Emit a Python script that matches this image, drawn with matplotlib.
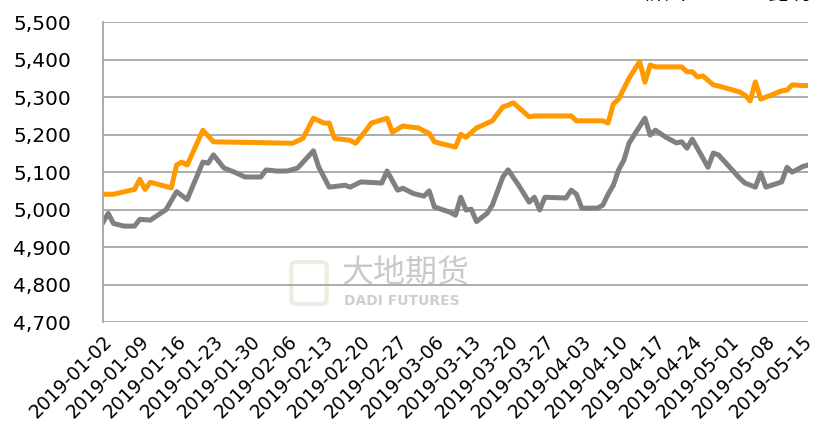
import numpy as np
import pandas as pd
import matplotlib
matplotlib.use("Agg")
import matplotlib.pyplot as plt
import matplotlib.dates as mdates
from matplotlib.ticker import FuncFormatter
from matplotlib.patches import FancyBboxPatch

# spot price, Liuzhou (orange)
liuzhou_dates = ["2019-01-02", "2019-01-04", "2019-01-08", "2019-01-09", "2019-01-10", "2019-01-11",
                 "2019-01-15", "2019-01-16", "2019-01-17", "2019-01-18", "2019-01-21", "2019-01-23",
                 "2019-02-04", "2019-02-07", "2019-02-09", "2019-02-11", "2019-02-13", "2019-02-14",
                 "2019-02-15", "2019-02-18", "2019-02-19", "2019-02-21", "2019-02-22", "2019-02-25",
                 "2019-02-26", "2019-02-28", "2019-03-03", "2019-03-04", "2019-03-05", "2019-03-06",
                 "2019-03-07", "2019-03-10", "2019-03-11", "2019-03-12", "2019-03-14", "2019-03-17",
                 "2019-03-19", "2019-03-20", "2019-03-21", "2019-03-24", "2019-03-25", "2019-04-01",
                 "2019-04-02", "2019-04-07", "2019-04-08", "2019-04-09", "2019-04-10", "2019-04-12",
                 "2019-04-14", "2019-04-15", "2019-04-16", "2019-04-17", "2019-04-22", "2019-04-23",
                 "2019-04-24", "2019-04-25", "2019-04-26", "2019-04-28", "2019-04-29", "2019-05-03",
                 "2019-05-04", "2019-05-05", "2019-05-06", "2019-05-07", "2019-05-11", "2019-05-12",
                 "2019-05-13", "2019-05-15", "2019-05-16"]
liuzhou = [5041, 5041, 5054, 5081, 5054, 5073,
           5058, 5119, 5127, 5119, 5212, 5181,
           5178, 5177, 5190, 5244, 5231, 5231,
           5190, 5185, 5177, 5212, 5231, 5244,
           5207, 5223, 5218, 5210, 5204, 5181,
           5177, 5167, 5201, 5193, 5218, 5237,
           5274, 5279, 5285, 5248, 5250, 5250,
           5237, 5237, 5231, 5282, 5295, 5351,
           5395, 5340, 5386, 5381, 5381, 5368,
           5368, 5354, 5357, 5333, 5330, 5314,
           5306, 5290, 5341, 5295, 5317, 5319,
           5333, 5331, 5331]

# spot price, Kunming (grey)
kunming_dates = ["2019-01-02", "2019-01-03", "2019-01-04", "2019-01-06", "2019-01-08", "2019-01-09",
                 "2019-01-11", "2019-01-14", "2019-01-16", "2019-01-18", "2019-01-21", "2019-01-22",
                 "2019-01-23", "2019-01-25", "2019-01-27", "2019-01-29", "2019-02-01", "2019-02-02",
                 "2019-02-04", "2019-02-06", "2019-02-08", "2019-02-11", "2019-02-12", "2019-02-14",
                 "2019-02-17", "2019-02-18", "2019-02-20", "2019-02-24", "2019-02-25", "2019-02-27",
                 "2019-02-28", "2019-03-02", "2019-03-04", "2019-03-05", "2019-03-06", "2019-03-09",
                 "2019-03-10", "2019-03-11", "2019-03-12", "2019-03-13", "2019-03-14", "2019-03-16",
                 "2019-03-17", "2019-03-19", "2019-03-20", "2019-03-22", "2019-03-24", "2019-03-25",
                 "2019-03-26", "2019-03-27", "2019-03-31", "2019-04-01", "2019-04-02", "2019-04-03",
                 "2019-04-06", "2019-04-07", "2019-04-08", "2019-04-09", "2019-04-10", "2019-04-11",
                 "2019-04-12", "2019-04-15", "2019-04-16", "2019-04-17", "2019-04-19", "2019-04-21",
                 "2019-04-22", "2019-04-23", "2019-04-24", "2019-04-27", "2019-04-28", "2019-04-29",
                 "2019-05-03", "2019-05-04", "2019-05-06", "2019-05-07", "2019-05-08", "2019-05-11",
                 "2019-05-12", "2019-05-13", "2019-05-15", "2019-05-16"]
kunming = [4966, 4990, 4963, 4956, 4956, 4974,
           4972, 5000, 5048, 5027, 5127, 5124,
           5146, 5111, 5100, 5087, 5087, 5106,
           5103, 5103, 5111, 5157, 5114, 5060,
           5065, 5060, 5074, 5071, 5103, 5052,
           5057, 5043, 5036, 5050, 5007, 4993,
           4985, 5033, 4999, 5001, 4968, 4990,
           5012, 5087, 5106, 5065, 5020, 5033,
           4999, 5033, 5031, 5052, 5041, 5004,
           5004, 5012, 5041, 5065, 5106, 5132,
           5178, 5244, 5199, 5212, 5193, 5178,
           5181, 5164, 5188, 5113, 5151, 5146,
           5084, 5071, 5060, 5098, 5060, 5074,
           5113, 5100, 5115, 5119]

series_names = ["柳州", "昆明"]
tick_dates = pd.date_range("2019-01-02", "2019-05-15", freq="7D")
y_ticks = list(range(4700, 5501, 100))

plt.rcParams["font.family"] = ["DejaVu Sans", "Noto Sans CJK SC"]

fig = plt.figure(figsize=(8.17, 4.46), dpi=100)
ax = fig.add_axes([0.126, 0.278, 0.863, 0.672])
ax.set_facecolor("none")

ax.plot(pd.to_datetime(kunming_dates), kunming, color="#808080", lw=3.6, solid_joinstyle="round")
ax.plot(pd.to_datetime(liuzhou_dates), liuzhou, color="#FF9900", lw=3.6, solid_joinstyle="round")

ax.set_xlim(pd.Timestamp("2019-01-02"), pd.Timestamp("2019-05-16"))
ax.set_ylim(4700, 5500)
ax.set_yticks(y_ticks)
ax.yaxis.set_major_formatter(FuncFormatter(lambda v, p: f"{int(v):,}"))
ax.grid(axis="y", color="#A6A6A6", lw=1.3)
ax.set_axisbelow(True)

ax.set_xticks(tick_dates)
ax.xaxis.set_major_formatter(mdates.DateFormatter("%Y-%m-%d"))
for lab in ax.get_xticklabels():
    lab.set_rotation(45)
    lab.set_ha("right")
    lab.set_va("top")
    lab.set_rotation_mode("anchor")

ax.tick_params(axis="y", length=0, labelsize=14.5, pad=23)
ax.tick_params(axis="x", length=0, labelsize=13.5, pad=7)

for s in ["top", "right", "bottom"]:
    ax.spines[s].set_visible(False)
ax.spines["left"].set_color("#A6A6A6")
ax.spines["left"].set_linewidth(1.3)

# legend text, cut off by the top edge as in the source
fig.text(642 / 817, 1 - 4 / 446, series_names[0], fontsize=16, va="bottom",
         family=["Noto Sans CJK SC", "DejaVu Sans"])
fig.text(767 / 817, 1 - 4 / 446, series_names[1], fontsize=16, va="bottom",
         family=["Noto Sans CJK SC", "DejaVu Sans"])

# watermark
logo = FancyBboxPatch((293 / 817, 1 - 303 / 446), 32 / 817, 40 / 446,
                      boxstyle="round,pad=0.002,rounding_size=0.008",
                      transform=fig.transFigure, fill=False, ec="#F1ECE1", lw=3, zorder=-1)
fig.patches.append(logo)
fig.text(342 / 817, 1 - 272 / 446, "大地期货", fontsize=23, color="#C9C9C9", va="center",
         family=["Noto Sans CJK SC", "DejaVu Sans"], zorder=-1)
fig.text(344 / 817, 1 - 301 / 446, "DADI FUTURES", fontsize=10, color="#CFCFCF", va="center",
         fontweight="bold", zorder=-1)

fig.savefig("out.png", dpi=100)
